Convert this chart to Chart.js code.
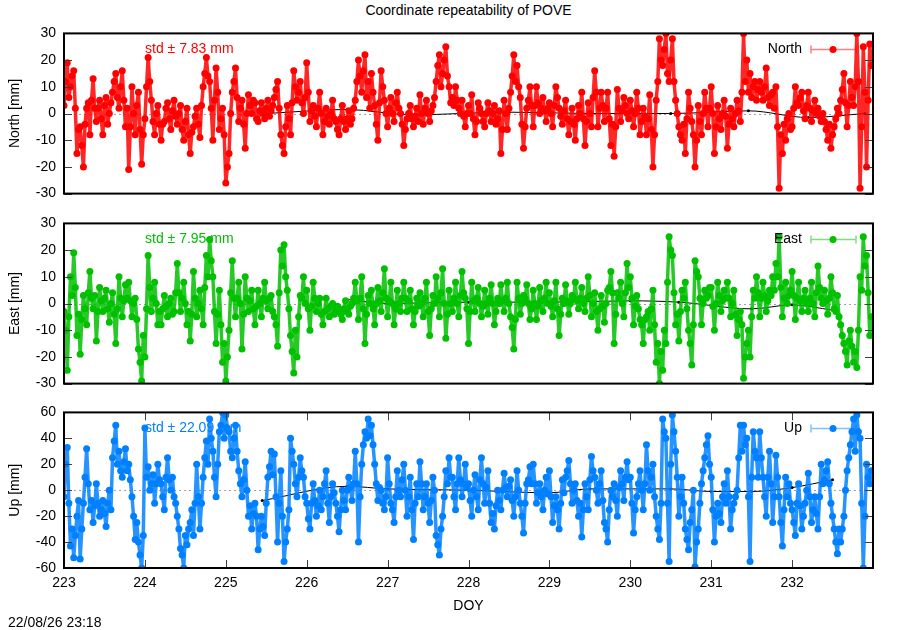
<!DOCTYPE html>
<html>
<head>
<meta charset="utf-8">
<script src="https://cdn.jsdelivr.net/npm/chart.js@4.4.0/dist/chart.umd.min.js"></script>
<style>
  body { margin: 0; background: #fff; width: 900px; height: 630px; position: relative; overflow: hidden;
         font-family: "Liberation Sans", Arial, sans-serif; color: #000; }
  canvas { position: absolute; left: 0; }
  #title { position: absolute; top: 2px; left: 0; width: 937px; text-align: center; font-size: 14px; }
  #doy { position: absolute; top: 597px; left: 0; width: 937px; text-align: center; font-size: 14px; }
  #stamp { position: absolute; left: 8px; top: 614px; font-size: 14px; }
</style>
</head>
<body>
<div id="title">Coordinate repeatability of POVE</div>
<canvas id="north" width="900" height="193" style="top:17px"></canvas>
<canvas id="east" width="900" height="193" style="top:207px"></canvas>
<canvas id="up" width="900" height="234" style="top:396px"></canvas>
<div id="doy">DOY</div>
<div id="stamp">22/08/26 23:18</div>
<script>
// sampling of the solutions (day of year)
const doyStart = 223.0;
const doyStep = 0.02;

const northStd = "7.83";
const eastStd = "7.95";
const upStd = "22.09";

// North residuals [mm] (10 values per 0.2 day)
const northVals = [
  3, 12, 19, 6, 10, 14, 16, 2, -15, -6,
  -5, -12, -20, -4, 2, 4, -8, 5, 13, 2,
  -3, 2, 5, -2, -8, 3, 6, -4, 0, 4,
  8, 12, 15, 6, 2, 10, 16, 5, -5, 2,
  -21, -5, 10, 0, -8, 3, 8, -6, -19, -8,
  -2, 10, 21, 12, 5, -3, -8, 0, 3, -4,
  -10, -4, -3, 2, 4, -2, -6, 1, 5, -1,
  -4, 0, 3, -6, -10, -3, 2, -8, -15, -7,
  -5, -1, 2, -4, -9, 3, 10, 15, 21, 14,
  12, 2, -10, 5, 17, 8, -6, -2, 2, -8,
  -26, -20, -15, 0, 8, 12, 17, 6, -3, 2,
  5, -4, -13, 0, 7, 3, 0, 5, 4, -2,
  -3, 1, 4, 0, -2, 2, 5, -1, 1, 3,
  6, 9, 12, 2, -8, -12, -15, -5, 3, -2,
  -8, 4, 16, 10, 5, 8, 12, 4, 0, 6,
  19, 8, -3, 1, 3, -1, -5, 2, 8, 0,
  -8, -3, 2, -1, -4, 0, 5, -2, -3, -6,
  -8, -2, 3, -3, -6, -2, 1, -4, -2, 2,
  5, 12, 20, 14, 8, 16, 22, 6, 12, 2,
  15, 8, 3, -4, -10, 4, 16, 10, 5, 0,
  -5, 2, 6, 0, -3, 4, 8, 2, 0, -4,
  -12, -6, -2, 0, 3, -2, -5, -1, 2, -3,
  7, 0, -4, 2, 5, 0, -3, 1, 3, 6,
  12, 18, 22, 10, 15, 20, 25, 14, 10, 4,
  6, 3, 10, 5, 2, 0, 5, -1, -5, 0,
  3, 0, 7, -2, -8, -3, 4, 2, 0, -3,
  -5, 0, 4, 1, -3, 0, 3, -4, -2, 1,
  -15, -6, 5, 0, -6, 2, 8, 14, 22, 12,
  18, 10, 6, -4, -13, -5, 2, 5, 10, 3,
  -5, 3, 10, 4, 0, 2, 6, 1, -3, 2,
  4, 0, -5, 3, 10, 6, 2, -1, -4, 1,
  5, -2, -8, -3, 2, -4, -10, -2, 3, 0,
  8, -2, -12, -3, 4, 0, -5, 6, 16, 8,
  -5, 2, 8, 3, -3, 2, 8, -2, -12, -4,
  -16, -5, 9, 2, -3, 1, 6, 3, 0, -2,
  5, 1, -5, 0, 8, 2, -8, -3, 2, -1,
  -8, -2, 7, -6, -20, -8, 5, 12, 28, 20,
  18, 24, 30, 15, 12, 20, 28, 12, 5, 0,
  -5, -8, -10, -4, -15, -2, 8, 2, -3, -8,
  -20, -10, 3, -3, -8, 0, 8, 2, -5, 2,
  10, 0, -15, -5, 3, -2, -6, 0, 5, -1,
  -13, -4, 2, -2, -5, 0, 5, 1, -3, 8,
  30, 12, 20, 8, 15, 6, 10, 12, 5, 9,
  12, 8, 5, 10, 17, 6, 3, 7, 8, 2,
  10, -5, -28, -8, -15, -4, -10, -2, 0, -6,
  -5, 2, 10, 4, 3, 6, 8, 1, -2, 3,
  8, 2, -3, 1, 5, 0, 2, -1, -3, 0,
  -3, -6, -10, -4, -13, -8, -5, -2, 2, 0,
  5, 9, 15, 4, -5, 3, 12, 6, 3, 10,
  30, 12, -28, -5, 25, 8, -20, 5, 26, 18
];

// East residuals [mm]
const eastVals = [
  -3, -10, -25, -5, 10, 3, 19, 6, -12, -4,
  -19, -6, 3, -2, -8, 4, 12, 2, -2, 3,
  -14, -3, 6, 1, -3, 2, 5, -2, -7, 0,
  4, -4, -15, -2, 10, 2, -5, 1, 7, 2,
  8, 1, -5, 0, 2, -6, -17, -22, -29, -12,
  -20, -2, 18, 6, -3, 2, 8, 0, -8, -3,
  -8, -2, 3, -1, -5, 0, 2, -4, -3, 4,
  15, 4, -3, 2, 8, 0, -8, -3, -14, -4,
  12, 2, -5, 0, 5, -2, -8, 6, 18, 10,
  24, 16, 10, -3, -15, -4, 5, -8, -22, -15,
  -29, -20, -10, 4, 16, 2, -5, 2, 8, 0,
  -17, -4, 10, 2, -3, 1, 5, -2, -8, -1,
  5, 0, -5, 2, 8, 1, -2, 2, 3, -3,
  -5, -8, -16, 4, 20, 14, 22, 10, 5, -2,
  -12, -18, -26, -10, -20, -5, 3, 2, 10, 0,
  5, -2, -10, -1, 8, 2, -3, 0, 2, -4,
  -8, -3, 2, -2, -5, -1, 0, -4, -3, -1,
  -2, -4, -6, -2, 1, -3, -4, -1, 0, 2,
  8, 1, -6, 2, 10, -2, -15, -4, 3, 0,
  5, -2, -8, 0, 6, 1, -3, 4, 13, 2,
  -5, 1, 8, 0, -8, -2, 5, 0, -3, 2,
  8, 2, -3, 1, 5, -2, -8, -3, 2, -1,
  4, 0, -5, 2, 8, -3, -12, -2, 3, 0,
  10, 2, -5, 4, 13, 0, -13, -4, 5, 0,
  -3, 2, 8, 0, -5, 3, 12, 4, 2, -2,
  -15, -3, 8, 1, -3, 2, 6, 0, -5, -1,
  5, 0, -4, 2, 7, 0, -8, -3, 2, 0,
  7, 1, -3, 2, 8, 0, -5, -9, -17, -6,
  8, 2, -4, 0, 3, 2, 7, 0, -6, -2,
  5, 0, -6, -1, 6, 1, -3, 2, 8, 0,
  4, -1, -5, 1, 8, -2, -12, -4, 2, 0,
  7, 1, -4, 0, 3, 2, 8, 1, -2, 2,
  6, 0, -3, 2, 10, 3, -5, 0, 4, -3,
  -10, -2, 3, -1, -7, 0, 5, 6, 12, 4,
  -15, -4, 4, 2, 8, 0, -5, 4, 15, 6,
  10, 2, -8, -1, 3, -2, -6, -8, -15, -6,
  -5, -3, -10, -2, 5, -8, -22, -15, -30, -18,
  -25, -10, -15, 8, 25, 20, 18, 4, -8, -4,
  -14, -3, 5, 2, 8, -2, -10, -15, -23, -8,
  16, 12, 10, 2, -8, 0, 5, 2, 3, 6,
  6, -1, -10, 0, 8, 3, -3, 1, 5, 2,
  8, 2, -5, 0, 5, -4, -12, -6, -3, -8,
  -28, -20, -15, -10, -20, -5, 5, 2, 10, 4,
  -5, 2, 8, 3, -3, 1, 5, 3, 10, 5,
  15, 10, 25, 6, -5, 2, 8, 0, 3, 5,
  12, 3, -6, 2, 8, 1, -3, 2, 5, 0,
  -3, 2, 8, 0, -5, 4, 14, 6, 2, 0,
  5, 1, -4, 2, 10, 4, -2, -3, 3, -5,
  -8, -12, -15, -18, -23, -14, -10, -16, -22, -18,
  -24, -10, 10, 5, 25, 14, 18, 4, -12, -5
];

// Up residuals [mm]
const upVals = [
  -5, 20, 33, -10, -43, -30, -52, -35, -20, -8,
  -53, -30, -10, 10, 32, 5, -15, -8, -25, -12,
  5, -10, -20, -15, -8, -18, -28, -10, 0, -15,
  25, 38, 50, 20, 30, 15, 10, 22, 32, 15,
  20, 8, -5, -20, -38, -25, -40, -50, -60, -35,
  48, 10, 18, 0, 5, 12, -10, 5, 20, 8,
  5, -5, -15, 10, 25, 8, 0, 10, -5, -10,
  -20, -30, -45, -50, -60, -35, -42, -30, -25, -15,
  -35, -10, 20, -5, -30, -10, 10, 25, 38, 20,
  55, 40, 30, 10, -5, 20, 45, 50, 60, 40,
  58, 48, 45, 30, 25, 40, 50, 30, 15, 5,
  -5, 8, 22, 0, -20, -12, -30, -18, -10, -20,
  -46, -30, -20, -28, -35, -10, 10, 18, 30, 12,
  28, -5, -40, -10, 15, -20, -55, -40, -30, -15,
  40, 30, 20, 5, -5, 10, 25, 15, 10, -5,
  -10, -22, -30, -10, 5, -8, -20, -12, 0, -15,
  -5, 5, 15, -10, -25, -5, 5, -2, -10, -20,
  -32, -15, 0, -8, -15, 0, 10, 2, -8, 5,
  30, 5, -40, -5, 20, 35, 45, 40, 55, 42,
  50, 35, 20, 5, -8, 2, 0, -10, -15, -5,
  25, 5, -10, -15, -25, -5, 15, 0, -5, 8,
  20, 0, -20, -5, 10, -15, -38, -10, 5, -5,
  22, 5, -15, -5, 5, -10, -25, -8, 10, 0,
  -35, -42, -50, -30, -20, -5, 15, 5, 25, 10,
  10, -5, -15, 5, 25, 8, -5, 5, 20, 2,
  5, -8, -20, 0, 12, -5, -15, 8, 25, 5,
  -10, 2, 15, -10, -25, -18, -30, -12, 0, -8,
  -15, 0, 13, 2, -5, 3, 8, -8, -20, -5,
  15, 0, -10, -20, -33, -10, 5, 8, 18, 5,
  20, 5, -10, -2, 5, -5, -15, 0, 10, -3,
  15, -5, -25, -12, -5, -15, -30, -10, 8, -2,
  10, 15, 23, 5, -10, 0, 5, -8, -20, -10,
  -36, -15, 5, -5, -15, 8, 26, 15, 10, 0,
  -10, 5, 15, -8, -25, -30, -40, -15, 0, -5,
  5, -8, -20, 2, 15, 5, -8, 10, 22, 8,
  10, -10, -33, -15, -5, 5, 15, 0, -15, 5,
  35, 15, 0, 10, 20, -5, -20, -30, -38, -10,
  55, 45, 40, -10, -55, 20, 58, 45, 30, 10,
  -20, -5, 10, -10, -30, -38, -46, -25, -15, 0,
  -59, -40, -30, -10, 5, 15, 25, 35, 42, 20,
  10, -15, -40, -20, -10, -18, -25, -5, 5, -10,
  15, -5, -30, -15, -10, -5, 0, 25, 50, 30,
  50, 35, 40, -5, -55, 10, 45, 30, 25, 10,
  45, 25, 10, -5, -20, 10, 30, 5, -25, -5,
  27, 10, -5, -25, -43, -15, 10, -5, 5, -10,
  -15, -25, -35, -10, 5, -12, -30, -20, -10, 0,
  13, -5, -25, -15, -5, -18, -30, -5, 20, 5,
  8, 15, 22, 5, -10, -20, -30, -40, -49, -30,
  -40, -30, -20, 0, 15, 25, 35, 45, 55, 30,
  58, 45, 40, -10, -60, -20, 20, 10, 5, 15
];

// black trend curve through the daily means
const northFitDoy = [225.5, 226.5, 227.3, 228.5, 229.5, 230.5, 231.46, 232.2, 232.9];
const northFitVals = [0, 1.5, -0.5, 0.5, 0, 0, 1, -1.5, 0];
const eastFitDoy = [226.5, 227.0, 228.0, 229.0, 230.0, 230.6, 231.5, 232.0, 232.5];
const eastFitVals = [1.5, 0, 0.5, 0.5, 1, 0.5, -2, -0.5, -2.5];
const upFitDoy = [225.45, 226.5, 227.0, 228.0, 229.0, 229.5, 230.5, 231.0, 231.5, 232.0, 232.5];
const upFitVals = [-8, 3, 1, 0, -2, 1, 1, -1, -1, 2, 8];

const FONT = '"Liberation Sans", Arial, sans-serif';
Chart.defaults.font.family = FONT;
Chart.defaults.font.size = 14;
Chart.defaults.color = "#000";

function toPoints(vals) {
  return vals.map((v, i) => ({ x: doyStart + i * doyStep, y: v }));
}
function fitPoints(doy, vals) {
  return doy.map((d, i) => ({ x: d, y: vals[i] }));
}

const panelDecor = {
  id: "panelDecor",
  beforeDatasetsDraw(chart, args, o) {
    const { ctx, chartArea: a, scales: { y } } = chart;
    ctx.save();
    const y0 = Math.round(y.getPixelForValue(0)) + 0.5;
    ctx.strokeStyle = "#a0a0a0";
    ctx.lineWidth = 1;
    ctx.setLineDash([2, 3]);
    ctx.beginPath();
    ctx.moveTo(a.left, y0);
    ctx.lineTo(a.right, y0);
    ctx.stroke();
    ctx.setLineDash([]);
    // std label sits under the points, like in gnuplot
    ctx.fillStyle = o.color;
    ctx.font = "14px " + FONT;
    ctx.textBaseline = "middle";
    ctx.textAlign = "left";
    ctx.fillText("std \u00b1 " + o.std + " mm", a.left + 81, a.top + 16);
    ctx.restore();
  },
  afterDraw(chart, args, o) {
    const { ctx, chartArea: a, scales: { x, y } } = chart;
    ctx.save();
    ctx.strokeStyle = "#404040";
    ctx.lineWidth = 1;
    ctx.beginPath();
    y.ticks.forEach(t => {
      const py = Math.round(y.getPixelForValue(t.value)) + 0.5;
      ctx.moveTo(a.left, py); ctx.lineTo(a.left + 8, py);
      ctx.moveTo(a.right - 8, py); ctx.lineTo(a.right, py);
    });
    if (o.xTicks) {
      x.ticks.forEach(t => {
        const px = Math.round(x.getPixelForValue(t.value)) + 0.5;
        ctx.moveTo(px, a.bottom); ctx.lineTo(px, a.bottom - 8);
        ctx.moveTo(px, a.top); ctx.lineTo(px, a.top + 8);
      });
    }
    ctx.stroke();

    ctx.strokeStyle = "#000";
    ctx.lineWidth = 2;
    ctx.strokeRect(a.left, a.top, a.right - a.left, a.bottom - a.top);

    // key, top right
    const ly = a.top + 16;
    ctx.fillStyle = "#000";
    ctx.font = "14px " + FONT;
    ctx.textAlign = "right";
    ctx.textBaseline = "middle";
    ctx.fillText(chart.data.datasets[0].label, a.right - 71, ly);
    ctx.strokeStyle = o.light;
    ctx.lineWidth = 1.5;
    ctx.beginPath();
    ctx.moveTo(a.right - 62, ly); ctx.lineTo(a.right - 17, ly);
    ctx.moveTo(a.right - 62, ly - 4); ctx.lineTo(a.right - 62, ly + 4);
    ctx.moveTo(a.right - 17, ly - 4); ctx.lineTo(a.right - 17, ly + 4);
    ctx.stroke();
    ctx.fillStyle = o.color;
    ctx.beginPath();
    ctx.arc(a.right - 40, ly, 3.5, 0, Math.PI * 2);
    ctx.fill();
    ctx.restore();
  }
};

function makePanel(id, cfg) {
  const xAxis = {
    type: "linear",
    min: 223,
    max: 233,
    display: cfg.showX,
    grid: { display: false, drawTicks: false },
    border: { display: false },
    ticks: {
      stepSize: 1,
      padding: 7,
      maxRotation: 0,
      autoSkip: false,
      callback: v => (v >= 233 ? "" : String(v))
    },
    afterFit(s) { if (cfg.showX) s.height = 62; }
  };
  return new Chart(document.getElementById(id), {
    type: "line",
    data: {
      datasets: [
        {
          label: cfg.label,
          data: toPoints(cfg.vals),
          borderColor: cfg.mid,
          borderWidth: 3.5,
          borderJoinStyle: "round",
          borderCapStyle: "round",
          pointBackgroundColor: cfg.color,
          pointBorderWidth: 0,
          pointRadius: 3.5,
          pointStyle: "circle",
          tension: 0,
          order: 1
        },
        {
          label: "fit",
          data: fitPoints(cfg.fitDoy, cfg.fitVals),
          borderColor: "#000",
          borderWidth: 1,
          pointBackgroundColor: "#000",
          pointBorderWidth: 0,
          pointRadius: 1.5,
          cubicInterpolationMode: "monotone",
          order: 2
        }
      ]
    },
    options: {
      responsive: false,
      animation: false,
      layout: { padding: { top: 10, right: 27, bottom: cfg.showX ? 0 : 8, left: 0 } },
      plugins: {
        legend: { display: false },
        tooltip: { enabled: false },
        panelDecor: { color: cfg.color, light: cfg.light, std: cfg.std, xTicks: cfg.showX }
      },
      scales: {
        x: xAxis,
        y: {
          min: cfg.min,
          max: cfg.max,
          grid: { display: false, drawTicks: false },
          border: { display: false },
          ticks: { stepSize: cfg.step, padding: 8 },
          title: { display: true, text: cfg.title, padding: { top: 7, bottom: 0 } },
          afterFit(s) { s.width = 64; }
        }
      }
    },
    plugins: [panelDecor]
  });
}

makePanel("north", {
  label: "North", title: "North [mm]", vals: northVals, std: northStd,
  fitDoy: northFitDoy, fitVals: northFitVals,
  color: "#ff0000", mid: "rgba(255,0,0,0.85)", light: "rgba(255,0,0,0.5)",
  min: -30, max: 30, step: 10, showX: false
});
makePanel("east", {
  label: "East", title: "East [mm]", vals: eastVals, std: eastStd,
  fitDoy: eastFitDoy, fitVals: eastFitVals,
  color: "#00c000", mid: "rgba(0,192,0,0.85)", light: "rgba(0,192,0,0.5)",
  min: -30, max: 30, step: 10, showX: false
});
makePanel("up", {
  label: "Up", title: "Up [mm]", vals: upVals, std: upStd,
  fitDoy: upFitDoy, fitVals: upFitVals,
  color: "#0080ff", mid: "rgba(0,128,255,0.85)", light: "rgba(0,128,255,0.5)",
  min: -60, max: 60, step: 20, showX: true
});
</script>
</body>
</html>
